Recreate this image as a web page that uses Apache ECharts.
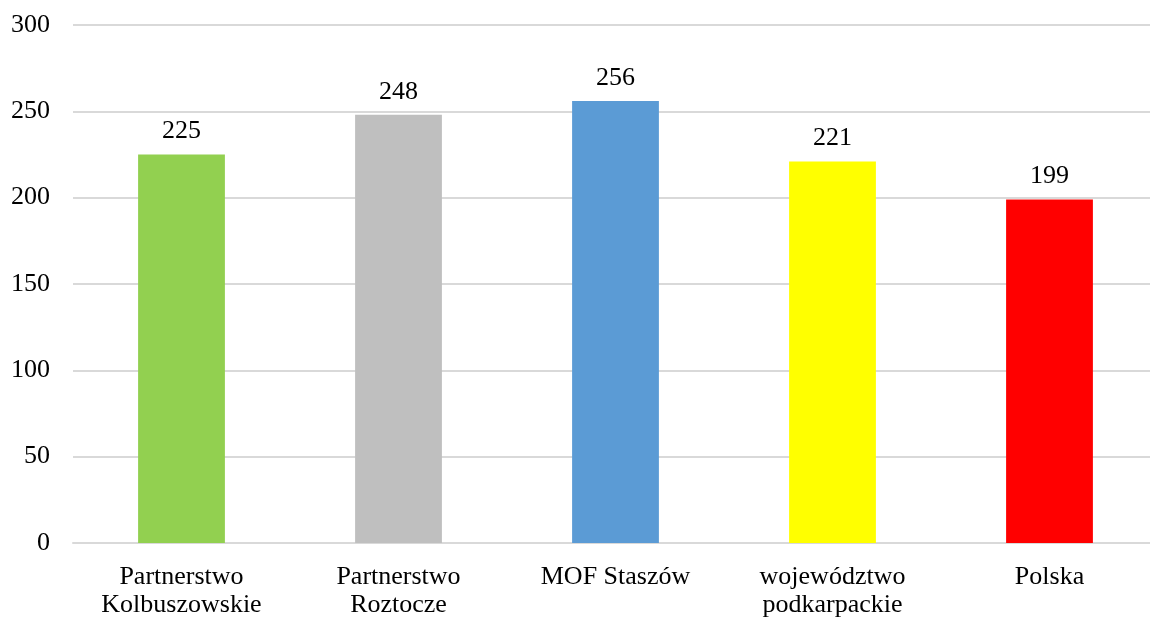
<!DOCTYPE html>
<html>
<head>
<meta charset="utf-8">
<script src="https://cdn.jsdelivr.net/npm/echarts@6/dist/echarts.min.js"></script>
<style>
  html, body { margin: 0; padding: 0; background: #fff; overflow: hidden; }
  /* the plot area runs a few pixels past the right edge of the window */
  #chart { width: 1158px; height: 619px; }
</style>
</head>
<body>
<div id="chart"></div>
<script>
const categories = ['Partnerstwo\nKolbuszowskie', 'Partnerstwo\nRoztocze', 'MOF Staszów', 'województwo\npodkarpackie', 'Polska'];
const values = [225, 248, 256, 221, 199];
const barColors = ['#92D050', '#BFBFBF', '#5B9BD5', '#FFFF00', '#FF0000'];
const yTicks = { min: 0, max: 300, interval: 50 };

const font = '"Liberation Serif", "Times New Roman", serif';

const chart = echarts.init(document.getElementById('chart'), null, { renderer: 'canvas' });
chart.setOption({
  animation: false,
  grid: { left: 73, right: 0, top: 25, bottom: 75, containLabel: false },
  xAxis: {
    type: 'category',
    data: categories,
    axisLine: { lineStyle: { color: '#D9D9D9', width: 2 } },
    axisTick: { show: false },
    axisLabel: {
      color: '#000', fontFamily: font, fontSize: 26, lineHeight: 28,
      margin: 20, interval: 0
    }
  },
  yAxis: {
    type: 'value',
    min: yTicks.min, max: yTicks.max, interval: yTicks.interval,
    axisLine: { show: false },
    axisTick: { show: false },
    splitLine: { lineStyle: { color: '#D9D9D9', width: 2 } },
    axisLabel: { color: '#000', fontFamily: font, fontSize: 26, margin: 23 }
  },
  series: [{
    type: 'bar',
    data: values.map((v, i) => ({ value: v, itemStyle: { color: barColors[i] } })),
    barWidth: '40%',
    label: {
      show: true, position: 'top', distance: 10,
      color: '#000', fontFamily: font, fontSize: 26
    }
  }]
});
</script>
</body>
</html>
